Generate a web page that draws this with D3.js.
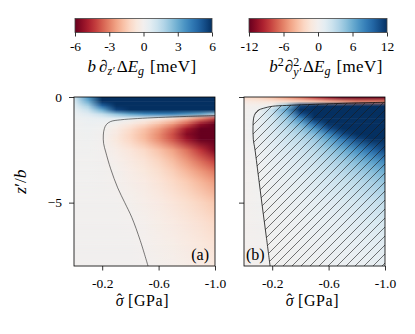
<!DOCTYPE html>
<html>
<head>
<meta charset="utf-8">
<script src="https://cdn.jsdelivr.net/npm/d3@7"></script>
<style>
    body { margin: 0; background: #fff; }
    svg { display: block; }
</style>
</head>
<body>
<div id="chart" style="width:415px;height:334px"></div>
<script>
const sigmaCols = [0, -0.1, -0.2, -0.3, -0.4, -0.5, -0.6, -0.7, -0.8, -0.9, -1.0];
const zRows = [0, -0.2, -0.4, -0.6, -0.8, -1.0, -1.25, -1.5, -1.75, -2, -2.5, -3, -3.5, -4, -5, -6, -7, -8];

// b dz' dEg [meV], one row per zRows entry
const dzValues = [
    [1.0, 3.5, 6.5, 8, 8, 8, 8, 8, 8, 8, 8],
    [0.8, 3.0, 6.0, 8, 8, 8, 8, 8, 8, 8, 8],
    [0.6, 2.0, 4.8, 7, 8, 8, 8, 8, 8, 8, 8],
    [0.4, 1.3, 3.0, 5.5, 6.5, 7, 7.5, 7.5, 7.5, 7.5, 7.5],
    [0.3, 0.7, 1.4, 2.4, 3.2, 3.8, 4, 4, 3.5, 3, 2],
    [0.2, 0.35, 0.5, 0.6, 0.4, 0.1, -0.3, -0.9, -1.8, -2.8, -4],
    [0.15, 0.25, 0.2, -0.1, -0.5, -1, -1.7, -2.5, -3.6, -5.2, -7],
    [0.12, 0.2, 0.1, -0.4, -1, -1.7, -2.5, -3.5, -5, -7, -9],
    [0.1, 0.15, 0.03, -0.5, -1.2, -1.9, -2.8, -3.9, -5.5, -7.3, -9],
    [0.1, 0.12, 0.0, -0.6, -1.2, -1.9, -2.8, -3.8, -5.1, -6.7, -8.5],
    [0.08, 0.08, 0.0, -0.35, -0.7, -1.1, -1.7, -2.4, -3.3, -4.4, -5.6],
    [0.06, 0.06, 0.02, -0.2, -0.5, -0.8, -1.25, -1.85, -2.6, -3.4, -4.2],
    [0.05, 0.05, 0.03, -0.1, -0.35, -0.6, -0.95, -1.4, -2, -2.6, -3.2],
    [0.05, 0.05, 0.03, -0.05, -0.25, -0.45, -0.75, -1.1, -1.5, -2, -2.5],
    [0.04, 0.04, 0.03, 0.01, -0.1, -0.25, -0.45, -0.7, -0.95, -1.25, -1.6],
    [0.03, 0.03, 0.03, 0.02, 0.0, -0.12, -0.3, -0.45, -0.65, -0.85, -1.1],
    [0.03, 0.03, 0.03, 0.02, 0.01, -0.05, -0.18, -0.3, -0.45, -0.6, -0.8],
    [0.02, 0.02, 0.02, 0.02, 0.01, -0.01, -0.1, -0.2, -0.3, -0.42, -0.55]
];

// b^2 dy'^2 dEg [meV]
const d2yValues = [
    [-2, -2.5, -3.5, -5, -6.5, -8.5, -10.5, -12, -13, -14, -14],
    [-1, -1.2, -1.5, -2, -2.5, -3, -4, -5, -6, -6, -6],
    [-0.3, -0.2, 0.3, 4.5, 11, 13, 13, 13, 13, 13, 13],
    [-0.2, 0.3, 2.8, 6.5, 12, 13, 13, 13, 13, 13, 13],
    [-0.15, 0.6, 2.6, 5.3, 10.5, 13, 13, 13, 13, 13, 13],
    [-0.1, 0.8, 2.2, 4.4, 8, 12, 13, 13, 13, 13, 13],
    [-0.1, 0.8, 2, 3.7, 5.8, 9.5, 12.5, 13, 13, 13, 13],
    [-0.1, 0.8, 1.8, 3, 4.5, 6.8, 10.5, 12.5, 13, 13, 13],
    [-0.1, 0.7, 1.6, 2.6, 3.7, 5.3, 7.8, 10.8, 12.5, 13, 13],
    [-0.1, 0.6, 1.4, 2.3, 3.1, 4.3, 6.2, 8.5, 10.8, 12.5, 13],
    [-0.1, 0.4, 1.1, 1.8, 2.4, 3.2, 4.4, 5.8, 7.4, 9.2, 11],
    [-0.1, 0.3, 0.9, 1.4, 1.9, 2.5, 3.3, 4.2, 5.3, 6.6, 8],
    [-0.1, 0.2, 0.7, 1.1, 1.5, 2, 2.6, 3.3, 4.1, 5, 6],
    [-0.1, 0.15, 0.5, 0.9, 1.2, 1.6, 2.1, 2.6, 3.2, 3.9, 4.6],
    [-0.1, 0.1, 0.35, 0.6, 0.8, 1.1, 1.4, 1.7, 2.1, 2.5, 2.9],
    [-0.1, 0.05, 0.25, 0.4, 0.55, 0.75, 0.95, 1.15, 1.4, 1.65, 1.9],
    [-0.1, 0.0, 0.18, 0.3, 0.4, 0.52, 0.66, 0.8, 0.95, 1.1, 1.3],
    [-0.1, -0.05, 0.12, 0.2, 0.28, 0.36, 0.45, 0.55, 0.65, 0.75, 0.9]
];

// [sigma, z'/b] along the drawn contours
const contourA = [[-1.0, -0.88], [-0.8, -0.92], [-0.6, -0.97], [-0.45, -1.02], [-0.33, -1.08], [-0.26, -1.16],
    [-0.23, -1.3], [-0.215, -1.5], [-0.208, -1.8], [-0.21, -2.2], [-0.225, -2.6], [-0.26, -3.4], [-0.31, -4.3],
    [-0.36, -5.0], [-0.41, -5.7], [-0.47, -6.8], [-0.525, -8]];
const contourB = [[-1.0, -0.25], [-0.7, -0.3], [-0.45, -0.36], [-0.3, -0.4], [-0.2, -0.44], [-0.14, -0.53],
    [-0.1, -0.63], [-0.08, -0.78], [-0.068, -1.0], [-0.064, -1.4], [-0.066, -2.0], [-0.078, -2.5], [-0.107, -4],
    [-0.136, -5.5], [-0.16, -6.7], [-0.185, -8]];

const xTicks = [-0.2, -0.6, -1.0];
const yTicks = [0, -5];
const cbTicksA = [-6, -3, 0, 3, 6];
const cbTicksB = [-12, -6, 0, 6, 12];

const width = 415;
const height = 334;
const plotTop = 97, plotBottom = 266, pw = 141;
const cbTop = 18.5, cbHeight = 14;
const serif = "'Liberation Serif'";

const svg = d3.select('#chart')
    .append('svg')
    .attr('width', width)
    .attr('height', height)
    .attr('font-family', serif);

const defs = svg.append('defs');

const vgrad = defs.append('linearGradient')
    .attr('id', 'vgrad')
    .attr('x1', 0).attr('y1', 0).attr('x2', 0).attr('y2', 1);
vgrad.append('stop').attr('offset', 0).attr('stop-color', '#000');
vgrad.append('stop').attr('offset', 1).attr('stop-color', '#fff');

defs.append('mask')
    .attr('id', 'vfade')
    .attr('maskUnits', 'objectBoundingBox')
    .attr('maskContentUnits', 'objectBoundingBox')
    .attr('x', 0).attr('y', 0).attr('width', 1).attr('height', 1)
    .append('rect')
    .attr('width', 1)
    .attr('height', 1)
    .attr('fill', 'url(#vgrad)');

const hs = 9;
defs.append('pattern')
    .attr('id', 'hatch')
    .attr('patternUnits', 'userSpaceOnUse')
    .attr('width', hs)
    .attr('height', hs)
    .append('path')
    .attr('d', `M0,${hs}L${hs},0M-2,2L2,-2M${hs - 2},${hs + 2}L${hs + 2},${hs - 2}`)
    .attr('stroke', '#1a1a1a')
    .attr('stroke-width', 0.6);

const y = d3.scaleLinear()
    .domain([0, -8])
    .range([plotTop, plotBottom]);

const hyphen = (d) => (d < 0 ? '-' : '') + Math.abs(d);

const panels = [
    {id: 'a', left: 74, values: dzValues, vmax: 6, contour: contourA, hatch: false,
        cbLeft: 75, cbRight: 212, cbTicks: cbTicksA, yLabels: true},
    {id: 'b', left: 244, values: d2yValues, vmax: 12, contour: contourB, hatch: true,
        cbLeft: 249, cbRight: 387, cbTicks: cbTicksB, yLabels: false}
];

function styleAxis(g) {
    g.attr('font-family', serif).attr('font-size', 13.5);
    g.select('.domain').remove();
    g.selectAll('line').attr('stroke', '#000').attr('stroke-width', 0.8);
    g.selectAll('text')
        .attr('font-family', serif)
        .attr('font-size', 13.5)
        .attr('fill', '#000');
}

panels.forEach((p) => {
    const x = d3.scaleLinear()
        .domain([0, -1])
        .range([p.left, p.left + pw]);

    const color = d3.scaleSequential(d3.interpolateRdBu)
        .domain([-p.vmax, p.vmax])
        .clamp(true);

    // one horizontal gradient per row
    p.values.forEach((row, r) => {
        const g = defs.append('linearGradient')
            .attr('id', `row_${p.id}_${r}`)
            .attr('gradientUnits', 'userSpaceOnUse')
            .attr('x1', x(0)).attr('x2', x(-1))
            .attr('y1', 0).attr('y2', 0);
        row.forEach((v, i) => {
            g.append('stop')
                .attr('offset', (x(sigmaCols[i]) - x(0)) / pw)
                .attr('stop-color', color(v));
        });
    });

    const field = svg.append('g').attr('class', 'field');
    const bands = d3.range(zRows.length - 1);

    field.selectAll('.base')
        .data(bands)
        .enter().append('rect')
        .attr('class', 'base')
        .attr('x', x(0))
        .attr('y', (r) => y(zRows[r]))
        .attr('width', pw)
        .attr('height', (r) => y(zRows[r + 1]) - y(zRows[r]) + 0.4)
        .attr('fill', (r) => `url(#row_${p.id}_${r})`);

    field.selectAll('.blend')
        .data(bands)
        .enter().append('rect')
        .attr('class', 'blend')
        .attr('x', x(0))
        .attr('y', (r) => y(zRows[r]))
        .attr('width', pw)
        .attr('height', (r) => y(zRows[r + 1]) - y(zRows[r]) + 0.4)
        .attr('fill', (r) => `url(#row_${p.id}_${r + 1})`)
        .attr('mask', 'url(#vfade)');

    const line = d3.line()
        .x((d) => x(d[0]))
        .y((d) => y(d[1]))
        .curve(d3.curveCatmullRom);

    if (p.hatch) {
        svg.append('path')
            .attr('d', line(p.contour) + `L${x(-1)},${y(-8)}Z`)
            .attr('fill', 'url(#hatch)');
    }

    svg.append('path')
        .datum(p.contour)
        .attr('fill', 'none')
        .attr('stroke', '#111')
        .attr('stroke-width', p.hatch ? 0.8 : 0.55)
        .attr('d', line);

    svg.append('rect')
        .attr('x', x(0))
        .attr('y', plotTop)
        .attr('width', pw)
        .attr('height', plotBottom - plotTop)
        .attr('fill', 'none')
        .attr('stroke', '#000')
        .attr('stroke-width', 0.8);

    const xAxis = d3.axisBottom(x)
        .tickValues(xTicks)
        .tickSize(4.5)
        .tickPadding(7.5)
        .tickFormat((d) => '-' + Math.abs(d).toFixed(1));

    const yAxis = d3.axisLeft(y)
        .tickValues(yTicks)
        .tickSize(5)
        .tickPadding(7)
        .tickFormat((d) => p.yLabels ? (d < 0 ? '\u2212' + Math.abs(d) : d) : '');

    svg.append('g')
        .attr('class', 'x axis')
        .attr('transform', `translate(0,${plotBottom})`)
        .call(xAxis)
        .call(styleAxis);

    svg.append('g')
        .attr('class', 'y axis')
        .attr('transform', `translate(${x(0)},0)`)
        .call(yAxis)
        .call(styleAxis);

    // sigma with a hat, then the unit
    const xl = svg.append('text')
        .attr('x', x(-0.5) - 2)
        .attr('y', 306)
        .attr('text-anchor', 'middle')
        .attr('font-size', 16);
    xl.append('tspan').attr('font-style', 'italic').text('\u03c3');
    xl.append('tspan').attr('dx', -7).attr('dy', -1.5).text('\u02c6');
    xl.append('tspan').attr('dx', 6).attr('dy', 1.5).attr('letter-spacing', 0.6).text('[GPa]');

    svg.append('text')
        .attr('x', p.hatch ? x(0) + 2 : x(-1) - 6)
        .attr('y', 260)
        .attr('text-anchor', p.hatch ? 'start' : 'end')
        .attr('font-size', 16)
        .text(`(${p.id})`);

    // colorbar
    const cb = d3.scaleLinear()
        .domain([-p.vmax, p.vmax])
        .range([p.cbLeft, p.cbRight]);

    const cg = defs.append('linearGradient')
        .attr('id', `cb_${p.id}`)
        .attr('x1', 0).attr('x2', 1).attr('y1', 0).attr('y2', 0);
    d3.range(0, 1.0001, 0.05).forEach((t) => {
        cg.append('stop')
            .attr('offset', t)
            .attr('stop-color', d3.interpolateRdBu(t));
    });

    svg.append('rect')
        .attr('x', p.cbLeft)
        .attr('y', cbTop)
        .attr('width', p.cbRight - p.cbLeft)
        .attr('height', cbHeight)
        .attr('fill', `url(#cb_${p.id})`)
        .attr('stroke', '#444')
        .attr('stroke-width', 0.8);

    const cbAxis = d3.axisBottom(cb)
        .tickValues(p.cbTicks)
        .tickSize(4)
        .tickPadding(4.5)
        .tickFormat(hyphen);

    svg.append('g')
        .attr('transform', `translate(0,${cbTop + cbHeight})`)
        .call(cbAxis)
        .call(styleAxis);
});

const ta = svg.append('text')
    .attr('x', 142)
    .attr('y', 72)
    .attr('text-anchor', 'middle')
    .attr('font-size', 17);
ta.append('tspan').attr('font-style', 'italic').text('b');
ta.append('tspan').attr('dx', 3).text('\u2202');
ta.append('tspan').attr('font-style', 'italic').attr('font-size', 12).attr('dy', 3).text('z\u2032');
ta.append('tspan').attr('dx', 2).attr('dy', -3).text('\u0394');
ta.append('tspan').attr('font-style', 'italic').text('E');
ta.append('tspan').attr('font-style', 'italic').attr('font-size', 12).attr('dy', 3).text('g');
ta.append('tspan').attr('dx', 6).attr('dy', -3).attr('letter-spacing', 0.4).text('[meV]');

const tb = svg.append('text')
    .attr('x', 326)
    .attr('y', 72)
    .attr('text-anchor', 'middle')
    .attr('font-size', 17);
tb.append('tspan').attr('font-style', 'italic').text('b');
tb.append('tspan').attr('font-size', 12).attr('dy', -6).text('2');
tb.append('tspan').attr('dx', 1).attr('dy', 6).text('\u2202');
tb.append('tspan').attr('font-size', 12).attr('dy', -6).text('2');
tb.append('tspan').attr('font-style', 'italic').attr('font-size', 12).attr('dx', -6).attr('dy', 10).text('y\u2032');
tb.append('tspan').attr('dx', 2).attr('dy', -4).text('\u0394');
tb.append('tspan').attr('font-style', 'italic').text('E');
tb.append('tspan').attr('font-style', 'italic').attr('font-size', 12).attr('dy', 3).text('g');
tb.append('tspan').attr('dx', 6).attr('dy', -3).attr('letter-spacing', 0.4).text('[meV]');

const yl = svg.append('text')
    .attr('transform', `translate(26,${(plotTop + plotBottom) / 2}) rotate(-90)`)
    .attr('text-anchor', 'middle')
    .attr('font-size', 17.5);
yl.append('tspan').attr('font-style', 'italic').text('z');
yl.append('tspan').text('\u2032/');
yl.append('tspan').attr('font-style', 'italic').text('b');
</script>
</body>
</html>
